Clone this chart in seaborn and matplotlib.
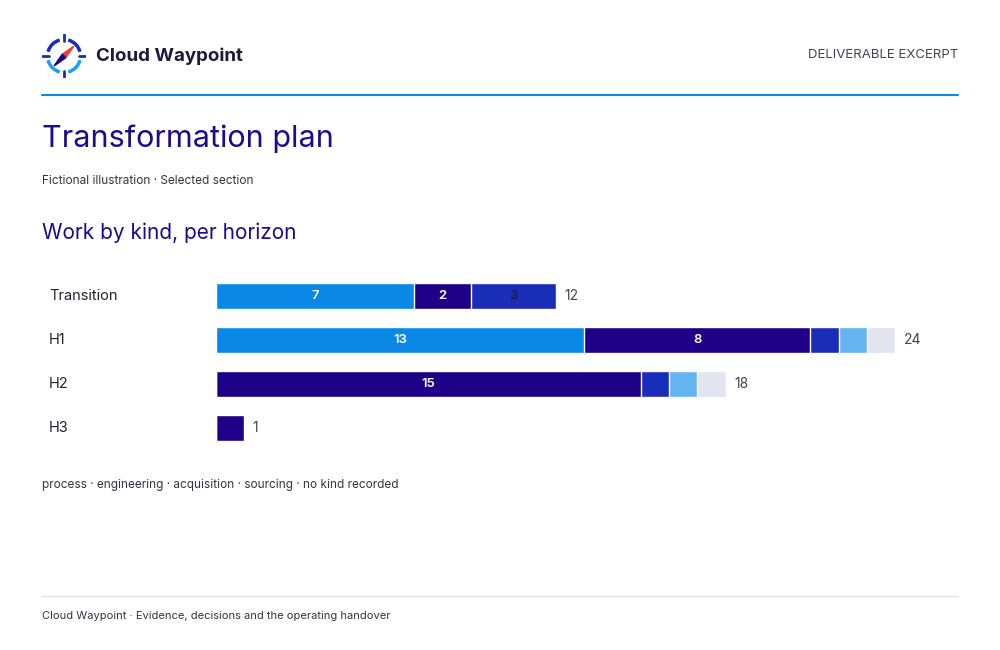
"""Transformation plan: work by kind, per horizon (stacked bars)."""

import matplotlib.pyplot as plt
import numpy as np
import pandas as pd
import seaborn as sns
from matplotlib.patches import Arc, Polygon

horizons = ["Transition", "H1", "H2", "H3"]
kinds = ["process", "engineering", "acquisition", "sourcing", "no kind recorded"]
process = [7, 13, 0, 0]
engineering = [2, 8, 15, 1]
acquisition = [3, 1, 1, 0]
sourcing = [0, 1, 1, 0]
no_kind = [0, 1, 1, 0]

colors = ["#0A88E8", "#1E0088", "#1A2DB8", "#64B4F0", "#E2E4EF"]
label_colors = ["white", "white", "#1E1A4A", "#1E1A4A", "#1E1A4A"]
INK = "#1E0A8C"

sns.set_theme(style="white")
plt.rcParams["font.family"] = ["Inter", "DejaVu Sans"]

df = pd.DataFrame(
    {"horizon": horizons, "process": process, "engineering": engineering,
     "acquisition": acquisition, "sourcing": sourcing, "no kind recorded": no_kind}
)
cum = df[kinds].cumsum(axis=1)
totals = df[kinds].sum(axis=1)

fig = plt.figure(figsize=(10, 6.5), dpi=100)
W, H = 1000, 650

# header
fig.text(96 / W, 1 - 56 / H, "Cloud Waypoint", fontsize=13.5, fontweight="bold",
         color="#1B1B3A", va="center")
fig.text(958 / W, 1 - 55 / H, "DELIVERABLE EXCERPT", fontsize=9.5, color="#444455",
         ha="right", va="center")
fig.add_artist(plt.Line2D([42 / W, 958 / W], [1 - 95 / H] * 2, color="#0A88E8", lw=1.5))

# logo
lax = fig.add_axes([42 / W, 1 - 78 / H, 44 / W, 44 / H])
lax.set_xlim(-1, 1)
lax.set_ylim(-1, 1)
lax.set_aspect("equal")
lax.axis("off")
for start in (15, 105, 195, 285):
    lax.add_patch(Arc((0, 0), 1.5, 1.5, theta1=start, theta2=start + 60,
                      color="#1AA0F0" if start in (195, 285) else "#1A2DB8", lw=2.5))
for dx, dy in [(0, 1), (0, -1), (1, 0), (-1, 0)]:
    lax.plot([dx * 0.7, dx * 0.98], [dy * 0.7, dy * 0.98], color="#1A2DB8", lw=2)
lax.add_patch(Polygon([(0.45, 0.45), (0.08, -0.08), (-0.08, 0.08)], color="#E8403A"))
lax.add_patch(Polygon([(-0.45, -0.45), (0.08, -0.08), (-0.08, 0.08)], color="#1E0088"))

fig.text(42 / W, 1 - 139 / H, "Transformation plan", fontsize=22, color=INK, va="center")
fig.text(42 / W, 1 - 181 / H, "Fictional illustration · Selected section", fontsize=8.5,
         color="#333344", va="center")
fig.text(42 / W, 1 - 233 / H, "Work by kind, per horizon", fontsize=15, color=INK, va="center")

# chart
ax = fig.add_axes([216 / W, 1 - 450 / H, 736 / W, 176 / H])
for i in reversed(range(len(kinds))):
    sns.barplot(x=cum[kinds[i]], y=df["horizon"], orient="h", color=colors[i],
                width=0.61, ax=ax, saturation=1)
ax.set_xlim(0, 26)
ax.set_ylim(3.5, -0.5)
ax.axis("off")

for r in range(len(horizons)):
    for i, k in enumerate(kinds):
        v = df.loc[r, k]
        if v >= 2:
            mid = cum.loc[r, k] - v / 2
            ax.text(mid, r, str(v), ha="center", va="center", fontsize=9.5,
                    fontweight="semibold", color=label_colors[i])
    ax.text(totals[r] + 0.3, r, str(totals[r]), va="center", fontsize=10, color="#444455")
    fig.text(49 / W, 1 - (296 + 44 * r) / H, horizons[r], fontsize=10.5,
             color="#222233", va="center")

fig.text(42 / W, 1 - 485 / H, " · ".join(kinds), fontsize=8.5, color="#333344", va="center")

# footer
fig.add_artist(plt.Line2D([42 / W, 958 / W], [1 - 596 / H] * 2, color="#E2E2E8", lw=1))
fig.text(42 / W, 1 - 616 / H, "Cloud Waypoint · Evidence, decisions and the operating handover",
         fontsize=8, color="#333344", va="center")

fig.savefig("out.png", dpi=100)
